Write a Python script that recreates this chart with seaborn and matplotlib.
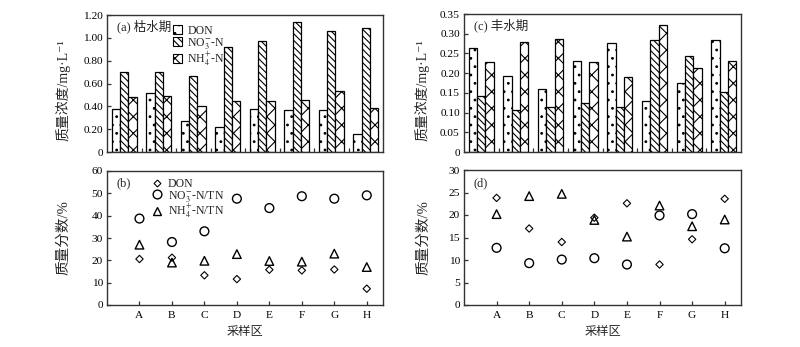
import numpy as np
import pandas as pd
import matplotlib
matplotlib.use("Agg")
import matplotlib.pyplot as plt
import seaborn as sns
from matplotlib.lines import Line2D
from matplotlib.patches import Patch
from matplotlib.ticker import FuncFormatter

sites = ["A", "B", "C", "D", "E", "F", "G", "H"]

# (a) dry season concentration, mg/L
dry_don = [0.377, 0.517, 0.270, 0.219, 0.377, 0.368, 0.368, 0.160]
dry_no3 = [0.698, 0.703, 0.670, 0.917, 0.975, 1.136, 1.060, 1.083]
dry_nh4 = [0.482, 0.490, 0.405, 0.449, 0.444, 0.458, 0.534, 0.383]

# (c) wet season concentration, mg/L
wet_don = [0.265, 0.194, 0.159, 0.231, 0.277, 0.130, 0.174, 0.284]
wet_no3 = [0.142, 0.107, 0.115, 0.125, 0.113, 0.285, 0.243, 0.152]
wet_nh4 = [0.229, 0.280, 0.287, 0.228, 0.189, 0.322, 0.213, 0.231]

# (b) dry season mass fraction, %
dry_don_pct = [20.6, 21.2, 13.3, 11.6, 15.8, 15.5, 15.9, 7.3]
dry_no3_pct = [38.7, 28.2, 33.0, 47.6, 43.4, 48.7, 47.6, 49.1]
dry_nh4_pct = [27.0, 19.0, 19.8, 22.8, 19.7, 19.4, 23.0, 17.0]

# (d) wet season mass fraction, %
wet_don_pct = [23.8, 17.0, 14.0, 19.4, 22.6, 9.0, 14.6, 23.6]
wet_no3_pct = [12.7, 9.3, 10.1, 10.4, 9.0, 19.9, 20.2, 12.6]
wet_nh4_pct = [20.2, 24.2, 24.7, 18.9, 15.2, 22.1, 17.5, 19.0]

bar_labels = ["DON", r"NO$_3^{-}$-N", r"NH$_4^{+}$-N"]
pt_labels = ["DON", r"NO$_3^{-}$-N/TN", r"NH$_4^{+}$-N/TN"]

conc_ticks_dry = [0, 0.2, 0.4, 0.6, 0.8, 1.0, 1.2]
conc_ticks_wet = [0, 0.05, 0.10, 0.15, 0.20, 0.25, 0.30, 0.35]
pct_ticks_dry = [0, 10, 20, 30, 40, 50, 60]
pct_ticks_wet = [0, 5, 10, 15, 20, 25, 30]

sns.set_theme(style="white")
FAMS = ["Liberation Serif", "Noto Sans CJK SC", "DejaVu Serif"]
plt.rcParams["font.family"] = FAMS
plt.rcParams["mathtext.fontset"] = "stix"
plt.rcParams["hatch.linewidth"] = 0.8
plt.rcParams["axes.edgecolor"] = "#333333"
plt.rcParams["axes.linewidth"] = 1.0

TICK_FS = 8.2
LEG_FS = 8.5
LAB_FS = 10
fig = plt.figure(figsize=(8.0, 3.47), dpi=100)
W, H = 800, 347


def add_ax(l, t, r, b):
    return fig.add_axes([l / W, (H - b) / H, (r - l) / W, (b - t) / H])


ax_a = add_ax(107, 15, 383, 152)
ax_c = add_ax(464, 14, 741, 152)
ax_b = add_ax(107, 171, 383, 305)
ax_d = add_ax(464, 170, 741, 305)

hatches = ["..", "\\\\\\\\\\", "xx"]


def fmt_conc(v, pos):
    return "0" if abs(v) < 1e-9 else f"{v:.2f}"


def bar_panel(ax, don, no3, nh4, ticks, lim, tag):
    df = pd.DataFrame({
        "site": sites * 3,
        "value": list(don) + list(no3) + list(nh4),
        "kind": [bar_labels[0]] * 8 + [bar_labels[1]] * 8 + [bar_labels[2]] * 8,
    })
    sns.barplot(data=df, x="site", y="value", hue="kind", hue_order=bar_labels,
                palette=["white"] * 3, edgecolor="black", linewidth=0.9,
                width=0.72, gap=0, ax=ax, legend=False, errorbar=None)
    for i, cont in enumerate(ax.containers):
        for p in cont:
            p.set_hatch(hatches[i])
            p.set_facecolor("white")
            p.set_edgecolor("black")
    ax.set_xlim(-0.5, 7.5)
    ax.set_ylim(*lim)
    ax.set_yticks(ticks)
    ax.yaxis.set_major_formatter(FuncFormatter(fmt_conc))
    ax.set_xticks(np.arange(0.5, 7.5, 1.0))
    ax.set_xticklabels([])
    ax.set_xlabel("")
    ax.set_ylabel("")
    ax.tick_params(axis="both", direction="in", length=3, width=0.9,
                   colors="#333333", labelsize=TICK_FS, labelcolor="black",
                   left=True, bottom=True, pad=3)
    ax.text(0.036, 0.92, tag, transform=ax.transAxes, fontsize=9,
            va="center", ha="left")


def pt_panel(ax, don, no3, nh4, ticks, lim, tag):
    x = np.arange(1, 9)
    sns.scatterplot(x=x, y=don, marker="D", s=14, facecolors="none",
                    edgecolor="black", linewidth=0.8, ax=ax)
    sns.scatterplot(x=x, y=no3, marker="o", s=40, facecolors="none",
                    edgecolor="black", linewidth=1.0, ax=ax)
    sns.scatterplot(x=x, y=nh4, marker="^", s=38, facecolors="none",
                    edgecolor="black", linewidth=1.0, ax=ax)
    for c in ax.collections:
        c.set_facecolor("none")
        c.set_edgecolor("black")
    ax.set_xlim(0, 8.5)
    ax.set_ylim(*lim)
    ax.set_yticks(ticks)
    ax.set_xticks(x)
    ax.set_xticklabels(sites)
    ax.tick_params(axis="both", direction="in", length=3, width=0.9,
                   colors="#333333", labelsize=TICK_FS, labelcolor="black",
                   left=True, bottom=True, pad=3)
    ax.tick_params(axis="x", pad=4)
    ax.set_xlabel("采样区", fontsize=8.8)
    ax.xaxis.set_label_coords(0.5, -0.155)
    ax.set_ylabel("")
    ax.text(0.036, 0.905, tag, transform=ax.transAxes, fontsize=9,
            va="center", ha="left")


bar_panel(ax_a, dry_don, dry_no3, dry_nh4, conc_ticks_dry, (0, 1.2), "(a) 枯水期")
bar_panel(ax_c, wet_don, wet_no3, wet_nh4, conc_ticks_wet, (0, 0.35), "(c) 丰水期")
pt_panel(ax_b, dry_don_pct, dry_no3_pct, dry_nh4_pct, pct_ticks_dry, (0, 60), "(b)")
pt_panel(ax_d, wet_don_pct, wet_no3_pct, wet_nh4_pct, pct_ticks_wet, (0, 30), "(d)")

for ax in (ax_a, ax_c):
    ax.set_ylabel("质量浓度/mg·L⁻¹", fontsize=LAB_FS, family=FAMS)
ax_a.yaxis.set_label_coords(-0.132, 0.45)
ax_c.yaxis.set_label_coords(-0.123, 0.45)
for ax in (ax_b, ax_d):
    ax.set_ylabel("质量分数/%", fontsize=LAB_FS + 0.5, family=FAMS)
ax_b.yaxis.set_label_coords(-0.132, 0.5)
ax_d.yaxis.set_label_coords(-0.123, 0.5)

bar_handles = [Patch(facecolor="white", edgecolor="black", hatch=h, linewidth=0.8)
               for h in hatches]
ax_a.legend(bar_handles, bar_labels, loc="upper left",
            bbox_to_anchor=(0.238, 0.93), frameon=False, fontsize=LEG_FS,
            handlelength=0.75, handleheight=0.75, handletextpad=0.5,
            labelspacing=-0.08, borderpad=0, borderaxespad=0)

pt_handles = [
    Line2D([], [], marker="D", ls="none", mfc="none", mec="black", ms=3.5, mew=0.8),
    Line2D([], [], marker="o", ls="none", mfc="none", mec="black", ms=6.3, mew=1.0),
    Line2D([], [], marker="^", ls="none", mfc="none", mec="black", ms=6.3, mew=1.0),
]
ax_b.legend(pt_handles, pt_labels, loc="upper left",
            bbox_to_anchor=(0.16, 0.95), frameon=False, fontsize=LEG_FS,
            handlelength=1.0, handletextpad=0.4, labelspacing=-0.1,
            borderpad=0, borderaxespad=0)

fig.savefig("out.png", dpi=100, facecolor="white")
